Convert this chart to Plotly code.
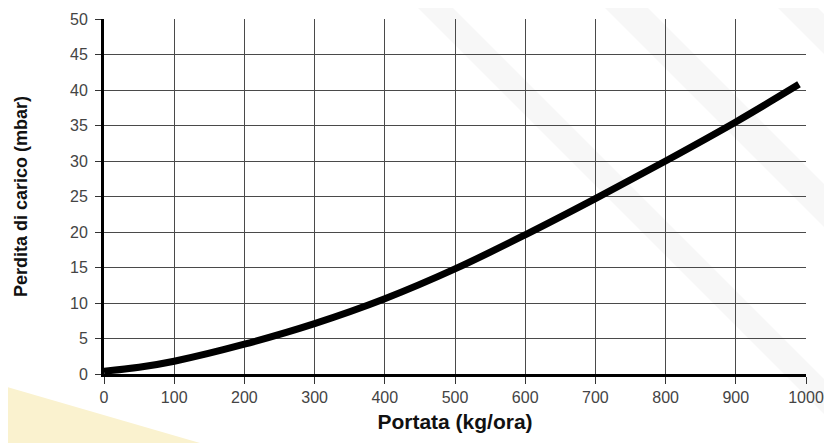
import plotly.graph_objects as go

# Data
portata = [0, 50, 100, 200, 300, 400, 500, 600, 700, 800, 900, 990]
perdita = [0.4, 0.95, 1.8, 4.2, 7.1, 10.6, 14.8, 19.6, 24.7, 30.0, 35.5, 40.8]

x_ticks = [0, 100, 200, 300, 400, 500, 600, 700, 800, 900, 1000]
y_ticks = [0, 5, 10, 15, 20, 25, 30, 35, 40, 45, 50]

# page is offset by the 8px body margin of the html page
OFF = 8
W, H = 832 - OFF, 443 - OFF
L, T = 104 - OFF, 19 - OFF
R, B = 26, 69
PW, PH = W - L - R, H - T - B


def px(x):
    return (x - OFF - L) / PW


def py(y):
    return (H - B - (y - OFF)) / PH


def poly(points):
    return "M " + " L ".join(f"{px(a):.4f},{py(b):.4f}" for a, b in points) + " Z"


shapes = []
# faint diagonal background bands (decoration)
for lo, hi in [(410, 445), (597, 640), (770, 810)]:
    pts = [(lo, 0), (hi, 0), (hi + 443, 443), (lo + 443, 443)]
    shapes.append(dict(type="path", xref="paper", yref="paper", path=poly(pts),
                       fillcolor="#f7f7f7", line=dict(width=0), layer="below"))
# pale yellow wedge bottom-left
shapes.append(dict(type="path", xref="paper", yref="paper",
                   path=poly([(0, 385), (200, 443), (0, 443)]),
                   fillcolor="#faf2cf", line=dict(width=0), layer="below"))

fig = go.Figure()
fig.add_trace(go.Scatter(
    x=portata, y=perdita, mode="lines",
    line=dict(color="black", width=7, shape="spline", smoothing=1.0),
    hoverinfo="skip", showlegend=False,
))

tickfont = dict(family="Liberation Sans, Arial, sans-serif", size=16, color="#444")
titlefont = dict(family="Liberation Sans, Arial, sans-serif", color="#111")

fig.update_layout(
    width=W, height=H,
    margin=dict(l=L, r=R, t=T, b=B, autoexpand=False),
    paper_bgcolor="white", plot_bgcolor="rgba(0,0,0,0)",
    shapes=shapes,
    xaxis=dict(
        range=[0, 1000], tickvals=x_ticks, ticktext=[str(v) for v in x_ticks],
        showgrid=True, gridcolor="#4a4a4a", gridwidth=1,
        zeroline=False, showline=True, linecolor="black", linewidth=3,
        ticks="outside", ticklen=7, tickcolor="#333", tickwidth=1,
        tickfont=tickfont,
        title=dict(text="<b>Portata (kg/ora)</b>", font=dict(size=21, **titlefont), standoff=10),
        fixedrange=True,
    ),
    yaxis=dict(
        range=[0, 50], tickvals=y_ticks, ticktext=[str(v) for v in y_ticks],
        showgrid=True, gridcolor="#4a4a4a", gridwidth=1,
        zeroline=False, showline=True, linecolor="black", linewidth=3,
        ticks="outside", ticklen=6, tickcolor="#333", tickwidth=1,
        ticklabelstandoff=4,
        tickfont=tickfont,
        title=dict(text="<b>Perdita di carico (mbar)</b>", font=dict(size=18, **titlefont), standoff=38),
        fixedrange=True,
    ),
)

fig.write_html("out.html")
